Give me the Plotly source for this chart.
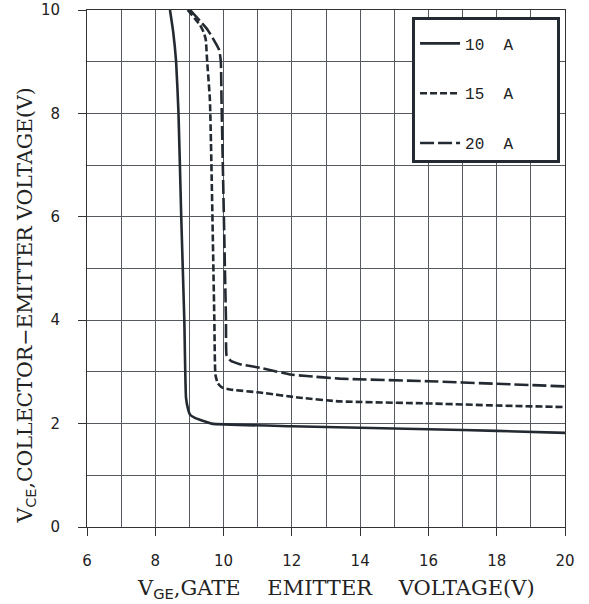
import plotly.graph_objects as go

# 10 A curve
x10 = [8.43, 8.52, 8.61, 8.68, 8.76, 8.85, 8.90, 8.96, 9.02, 9.16, 9.65, 12.0, 14.0, 16.0, 18.0, 20.0]
y10 = [10.0, 9.6, 9.0, 8.0, 6.0, 4.0, 2.5, 2.28, 2.17, 2.11, 2.0, 1.95, 1.92, 1.89, 1.86, 1.82]

# 15 A curve
x15 = [8.95, 9.31, 9.43, 9.48, 9.52, 9.60, 9.73, 9.76, 9.83, 9.95, 10.19, 11.07, 12.24, 13.4, 16.0, 18.0, 20.0]
y15 = [10.0, 9.71, 9.55, 9.42, 9.0, 8.26, 4.0, 2.95, 2.78, 2.70, 2.66, 2.60, 2.50, 2.43, 2.39, 2.35, 2.32]

# 20 A curve
x20 = [9.02, 9.54, 9.87, 9.92, 9.94, 10.07, 10.09, 10.2, 10.48, 11.07, 11.95, 12.43, 13.4, 16.0, 18.0, 20.0]
y20 = [10.0, 9.61, 9.23, 9.0, 8.26, 4.0, 3.31, 3.22, 3.15, 3.08, 2.95, 2.92, 2.87, 2.82, 2.77, 2.72]

names = ["10  A", "15  A", "20  A"]
dashes = ["solid", "7px,3px", "14px,4px"]
xtick_vals = [6, 8, 10, 12, 14, 16, 18, 20]
ytick_vals = [0, 2, 4, 6, 8, 10]

gap = "\u00a0" * 4
x_title = ("V<sub><span style='font-family:DejaVu Sans, sans-serif'>GE</span></sub>,GATE"
           + gap + "EMITTER" + gap + "VOLTAGE(V)")
y_title = "V<sub><span style='font-family:DejaVu Sans, sans-serif'>CE</span></sub>,COLLECTOR\u2212EMITTER VOLTAGE(V)"

line_color = "#232a31"
grid_color = "#555a60"
nb = "\u00a0"
serif = "DejaVu Serif, Liberation Serif, serif"

fig = go.Figure()
for i, (xs, ys) in enumerate([(x10, y10), (x15, y15), (x20, y20)]):
    fig.add_trace(go.Scatter(
        x=xs, y=ys, mode="lines", name=names[i] + nb * 4,
        legendgroup=f"g{i}",
        line=dict(color=line_color, width=2.6, dash=dashes[i], shape="spline", smoothing=0.4),
    ))

fig.update_layout(
    width=589, height=604,
    margin=dict(l=87, r=24, t=10, b=77),
    paper_bgcolor="white", plot_bgcolor="white",
    showlegend=True,
    legend=dict(
        x=0.68, y=0.9865, xanchor="left", yanchor="top",
        bgcolor="white", bordercolor="#232a31", borderwidth=3,
        font=dict(family="Liberation Mono, DejaVu Sans Mono, monospace", size=16, color="#222"),
        title=dict(text=nb, font=dict(size=5)),
        traceorder="grouped", tracegroupgap=26, itemwidth=40,
    ),
    xaxis=dict(
        range=[6, 20], tickvals=xtick_vals, ticktext=[str(v) for v in xtick_vals],
        showgrid=True, gridcolor=grid_color, gridwidth=1,
        showline=True, linecolor="#333", linewidth=1, mirror=True,
        ticks="outside", ticklen=8, tickcolor="#333", ticklabelstandoff=12,
        tickfont=dict(family="DejaVu Sans, sans-serif", size=15, color="#222"),
        zeroline=False, automargin=False,
    ),
    yaxis=dict(
        range=[0, 10], tickvals=ytick_vals, ticktext=[str(v) for v in ytick_vals],
        showgrid=True, gridcolor=grid_color, gridwidth=1,
        showline=True, linecolor="#333", linewidth=1, mirror=True,
        ticks="outside", ticklen=8, tickcolor="#333", ticklabelstandoff=15,
        tickfont=dict(family="DejaVu Sans, sans-serif", size=15, color="#222"),
        zeroline=False, automargin=False,
    ),
    annotations=[
        dict(text=x_title, xref="paper", yref="paper", x=0.521, y=-0.12,
             xanchor="center", yanchor="middle", showarrow=False,
             font=dict(family=serif, size=21, color="#222")),
        dict(text=y_title, xref="paper", yref="paper", x=-0.127, y=0.429,
             xanchor="center", yanchor="middle", showarrow=False, textangle=-90,
             font=dict(family=serif, size=20.5, color="#222")),
    ],
)
# minor grid every 1 unit
fig.update_xaxes(minor=dict(dtick=1, showgrid=True, gridcolor=grid_color, gridwidth=1, ticks=""))
fig.update_yaxes(minor=dict(dtick=1, showgrid=True, gridcolor=grid_color, gridwidth=1, ticks=""))

fig.write_html("out.html", config={"displayModeBar": False},
               post_script="document.body.style.margin='0';")
